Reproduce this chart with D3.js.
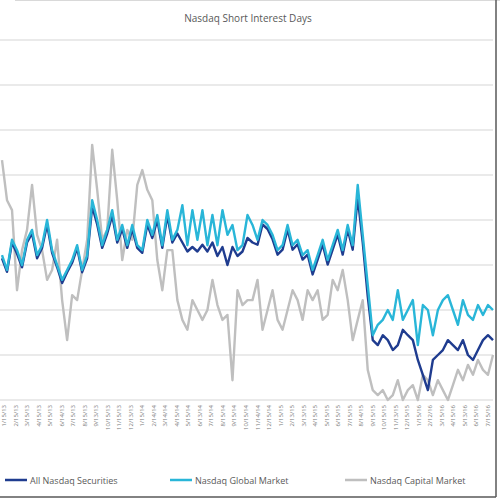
<!DOCTYPE html>
<html>
<head>
<meta charset="utf-8">
<script src="https://d3js.org/d3.v7.min.js"></script>
<style>
  body { margin: 0; background: #fff; }
  text { font-family: "Open Sans", sans-serif; }
</style>
</head>
<body>
<svg id="chart" width="500" height="500"></svg>
<script>
// Nasdaq short interest days, three series
var globalMarket = [3.22,2.89,3.56,3.33,3.0,3.56,3.78,3.22,3.44,4.0,3.33,3.0,2.67,2.89,3.11,3.44,2.89,3.22,4.44,4.0,
  3.44,3.78,4.22,3.56,3.89,3.44,3.89,3.44,3.33,4.0,3.67,4.11,3.44,4.22,3.56,3.78,4.33,3.44,4.22,3.56,
  4.22,3.44,4.11,3.44,4.22,3.67,3.89,3.33,3.44,4.11,3.89,3.56,4.0,3.89,3.67,3.33,3.44,3.89,3.44,3.56,
  3.22,3.33,2.89,3.22,3.56,3.11,3.44,3.78,3.33,3.89,3.44,4.78,3.67,2.56,1.44,1.67,1.78,2.0,1.78,2.44,
  1.78,2.0,2.22,1.22,2.11,2.0,1.44,2.0,2.22,2.33,2.0,1.67,2.22,1.89,1.78,2.11,1.89,2.11,2.0];
var allSecurities = [3.15,2.85,3.5,3.25,2.95,3.5,3.7,3.15,3.38,3.9,3.27,2.95,2.6,2.84,3.05,3.38,2.84,3.15,4.3,3.9,
  3.38,3.7,4.1,3.5,3.8,3.38,3.8,3.38,3.27,3.9,3.6,4.0,3.38,4.1,3.5,3.7,3.5,3.3,3.4,3.3,
  3.45,3.3,3.5,3.2,3.4,3.0,3.4,3.2,3.3,3.6,3.5,3.45,3.9,3.8,3.57,3.23,3.34,3.79,3.34,3.46,
  3.12,3.23,2.79,3.12,3.46,3.01,3.34,3.68,3.23,3.79,3.34,4.5,3.5,2.3,1.33,1.22,1.44,1.33,1.11,1.22,
  1.56,1.44,1.33,0.89,0.56,0.22,0.89,1.0,1.11,1.33,1.22,1.11,1.33,1.0,0.89,1.11,1.33,1.44,1.33];
var capitalMarket = [5.33,4.44,4.22,2.44,3.33,3.78,4.78,3.67,3.33,2.67,2.89,3.56,2.22,1.33,2.33,2.22,2.89,3.56,5.67,4.67,
  3.56,3.78,5.56,4.44,3.11,3.78,3.56,4.78,5.11,4.67,4.44,3.11,2.44,3.33,3.33,2.22,1.78,1.56,2.22,2.0,
  1.78,2.0,2.67,2.11,1.78,1.89,0.44,2.44,2.11,2.22,2.22,2.67,1.56,2.0,2.44,1.78,1.56,2.0,2.44,2.22,
  1.78,2.44,2.22,2.44,1.78,1.89,2.67,2.44,2.89,2.22,1.33,1.78,2.22,0.67,0.22,0.11,0.22,0.0,0.11,0.44,
  0.0,0.22,0.33,0.0,0.56,0.44,0.11,0.44,0.22,0.0,0.33,0.67,0.44,0.78,0.56,0.89,0.67,0.56,1.0];
var tickLabels = ["1/15/13","2/15/13","3/15/13","4/15/13","5/15/13","6/14/13","7/15/13","8/15/13","9/13/13","10/15/13",
  "11/15/13","12/13/13","1/15/14","2/14/14","3/14/14","4/15/14","5/15/14","6/13/14","7/15/14","8/15/14",
  "9/15/14","10/15/14","11/14/14","12/15/14","1/15/15","2/13/15","3/13/15","4/15/15","5/15/15","6/15/15",
  "7/15/15","8/14/15","9/15/15","10/15/15","11/13/15","12/15/15","1/15/16","2/12/16","3/15/16","4/15/16",
  "5/13/16","6/15/16","7/15/16"];
var seriesNames = ["All Nasdaq Securities", "Nasdaq Global Market", "Nasdaq Capital Market"];
var colors = ["#1f3c8f", "#29b6d8", "#bfbfbf"];

var svg = d3.select("#chart");
var x = d3.scaleLinear().domain([0, globalMarket.length - 1]).range([2, 493]);
var y = d3.scaleLinear().domain([0, 8]).range([400, 40]);

svg.append("line").attr("x1", 15).attr("x2", 500).attr("y1", 0.5).attr("y2", 0.5).attr("stroke", "#d9d9d9");
svg.append("line").attr("x1", 0).attr("x2", 496).attr("y1", 497).attr("y2", 497).attr("stroke", "#595959").attr("stroke-width", 1.5);
svg.append("line").attr("x1", 496).attr("x2", 496).attr("y1", 0).attr("y2", 497).attr("stroke", "#595959").attr("stroke-width", 1.5);

svg.append("text").attr("x", 248).attr("y", 22).attr("text-anchor", "middle")
  .attr("font-size", 10).attr("fill", "#595959").text("Nasdaq Short Interest Days");

svg.append("g").selectAll("line").data(d3.range(0, 9)).join("line")
  .attr("x1", 0).attr("x2", 493).attr("y1", d => y(d)).attr("y2", d => y(d))
  .attr("stroke", "#e3e3e3").attr("stroke-width", 1.5);

var xt = d3.scaleLinear().domain([0, tickLabels.length - 1]).range([4, 488]);
svg.append("g").selectAll("text").data(tickLabels).join("text")
  .attr("transform", (d, i) => "translate(" + (xt(i) + 2) + ",405) rotate(-90)")
  .attr("text-anchor", "end").attr("font-size", 6).attr("fill", "#777").text(d => d);

var line = d3.line().x((d, i) => x(i)).y(d => y(d));
[[capitalMarket, colors[2]], [allSecurities, colors[0]], [globalMarket, colors[1]]].forEach(function(p) {
  svg.append("path").datum(p[0]).attr("d", line).attr("fill", "none")
    .attr("stroke", p[1]).attr("stroke-width", 2.4).attr("stroke-linejoin", "round");
});

var lx = [5, 170, 345];
var lg = svg.append("g").selectAll("g").data(seriesNames).join("g")
  .attr("transform", (d, i) => "translate(" + lx[i] + ",480)");
lg.append("line").attr("x1", 0).attr("x2", 22).attr("stroke", (d, i) => colors[i]).attr("stroke-width", 2.5);
lg.append("text").attr("x", 25).attr("y", 3.5).attr("font-size", 9).attr("fill", "#595959").text(d => d);
</script>
</body>
</html>
